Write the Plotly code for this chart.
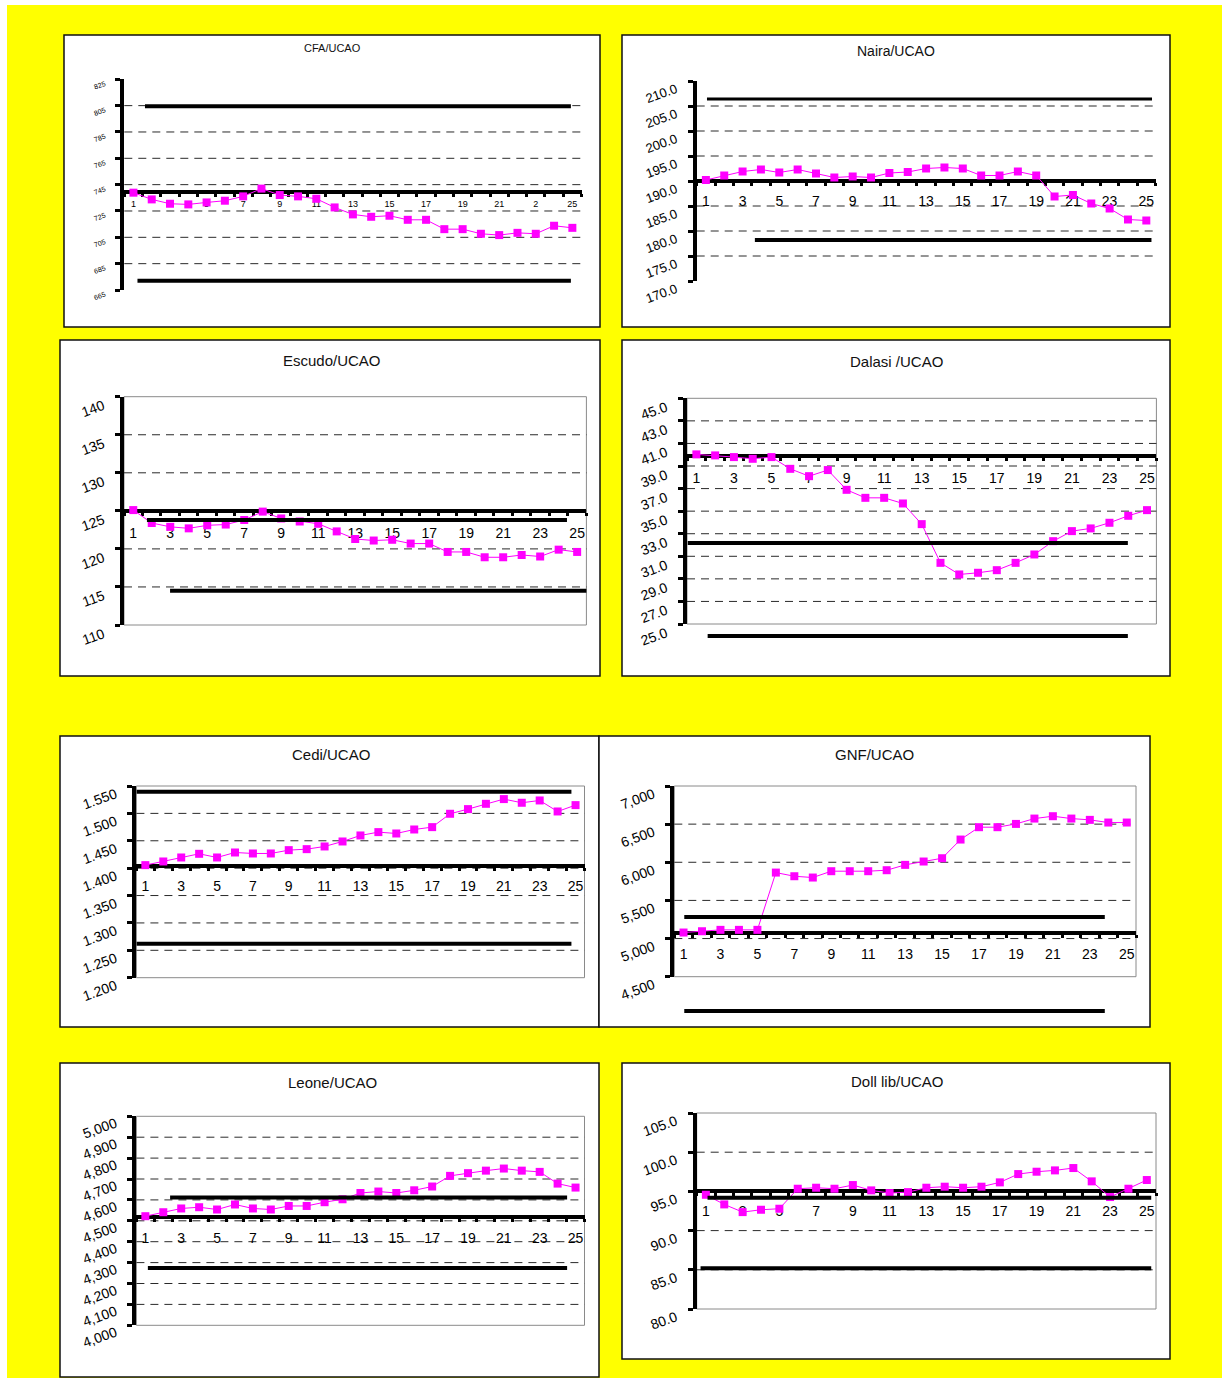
import numpy as np
import plotly.graph_objects as go

W, H = 1222, 1378

# ---------------- data ----------------
periods = list(range(1, 26))
xtick_vals = list(range(1, 26, 2))
xtick_text = [str(v) for v in xtick_vals]
xtick_text_cfa = ["1", "3", "5", "7", "9", "11", "13", "15", "17", "19", "21", "2", "25"]

titles = ["CFA/UCAO", "Naira/UCAO", "Escudo/UCAO", "Dalasi /UCAO",
          "Cedi/UCAO", "GNF/UCAO", "Leone/UCAO", "Doll lib/UCAO"]

cfa = [738.9, 733.8, 730.5, 730.0, 731.5, 732.8, 736.1, 742.0, 737.1, 736.1, 734.3, 727.7, 722.4,
       720.6, 721.4, 718.3, 718.3, 711.2, 711.2, 707.7, 706.7, 708.4, 707.7, 713.8, 712.2]
naira = [190.2, 191.1, 191.9, 192.3, 191.7, 192.3, 191.5, 190.7, 190.9, 190.7, 191.6, 191.8, 192.5,
         192.7, 192.5, 191.1, 191.1, 191.9, 191.1, 186.9, 187.2, 185.5, 184.5, 182.3, 182.1]
escudo = [125.1, 123.4, 122.9, 122.7, 123.1, 123.2, 123.8, 124.9, 124.0, 123.6, 123.3, 122.3, 121.3,
          121.1, 121.2, 120.7, 120.7, 119.6, 119.6, 118.9, 118.9, 119.2, 119.0, 119.9, 119.6]
dalasi = [40.03, 39.94, 39.79, 39.64, 39.79, 38.75, 38.10, 38.64, 36.89, 36.18, 36.18, 35.68, 33.85,
          30.42, 29.39, 29.54, 29.77, 30.42, 31.16, 32.34, 33.23, 33.47, 33.97, 34.59, 35.09]
cedi = [1.4055, 1.4122, 1.4195, 1.4262, 1.4195, 1.4286, 1.4268, 1.4268, 1.4329, 1.4347, 1.4396, 1.4487,
        1.4597, 1.4658, 1.4633, 1.4706, 1.4749, 1.4993, 1.5078, 1.5175, 1.5261, 1.5194, 1.5236, 1.5035, 1.5151]
gnf = [5079, 5096, 5114, 5114, 5114, 5865, 5817, 5800, 5883, 5883, 5883, 5896, 5966,
       6010, 6053, 6298, 6460, 6460, 6503, 6573, 6604, 6573, 6556, 6521, 6521]
leone = [4522, 4541, 4559, 4565, 4554, 4578, 4559, 4554, 4571, 4571, 4589, 4603, 4633,
         4640, 4633, 4646, 4664, 4715, 4728, 4740, 4750, 4740, 4734, 4678, 4659]
doll = [94.57, 93.34, 92.36, 92.66, 92.79, 95.34, 95.47, 95.34, 95.81, 95.13, 94.79, 94.91, 95.47,
        95.60, 95.47, 95.60, 96.15, 97.21, 97.51, 97.68, 97.98, 96.28, 94.28, 95.34, 96.45]

series = [cfa, naira, escudo, dalasi, cedi, gnf, leone, doll]

# axis scales (min, max, step) and crossing value of the category axis
y_ranges = [(665, 825, 20), (170, 210, 5), (110, 140, 5), (25, 45, 2),
            (1.2, 1.55, 0.05), (4500, 7000, 500), (4000, 5000, 100), (80, 105, 5)]
y_formats = ["d", ".1f", "d", ".1f", ".3f", ",d", ",d", ".1f"]
x_cross = [739.4, 190, 125, 39.9, 1.4037, 5070, 4519, 95]

# reference (band) levels: upper / lower
band_levels = [(804.5, 672.0), (206.4, 178.2), (123.8, 114.5), (32.17, 23.94),
               (1.5397, 1.2622), (5284, 4050), (4611, 4274), (94.19, 85.2)]

# ---------------- geometry (pixels) ----------------
geo = [
    dict(box=(64, 35, 600, 327), plot=(124.3, 79.3, 581.5, 290), title=(332, 48.3), tsize=11,
         xfont=9, yfont=7, frame=False, band_x=[(1.63, 24.92), (1.22, 24.92)], bw=[4, 4], xs=2, ys=4),
    dict(box=(622, 35, 1170, 327), plot=(696.7, 81, 1155.5, 281), title=(896, 50.7), tsize=14,
         xfont=14, yfont=13, frame=False, band_x=[(1.06, 25.31), (3.67, 25.28)], bw=[3, 4], xs=6, ys=7),
    dict(box=(60, 340, 600, 676), plot=(124, 396.7, 586.4, 625), title=(332, 360.7), tsize=15,
         xfont=14, yfont=14, frame=True, band_x=[(1.74, 24.45), (2.99, 25.69)], bw=[4, 4], xs=8, ys=8),
    dict(box=(622, 340, 1170, 676), plot=(687, 398.3, 1156.4, 624), title=(896.4, 361), tsize=15,
         xfont=14, yfont=14, frame=True, band_x=[(0.54, 23.98), (1.6, 23.98)], bw=[4, 4], xs=8, ys=8),
    dict(box=(60, 736, 599, 1027), plot=(136.4, 786, 584.5, 977.7), title=(331, 754.3), tsize=15,
         xfont=14, yfont=14, frame=True, band_x=[(0.5, 24.77), (0.5, 24.77)], bw=[4, 4], xs=6, ys=7),
    dict(box=(599, 736, 1150, 1027), plot=(674.3, 786, 1136, 976.7), title=(874.3, 754.3), tsize=15,
         xfont=14, yfont=14, frame=True, band_x=[(1.04, 23.81), (1.04, 23.81)], bw=[4, 4], xs=7, ys=7),
    dict(box=(60, 1063, 599, 1377), plot=(136.4, 1116.3, 584.5, 1325.3), title=(332, 1082.3), tsize=15,
         xfont=14, yfont=14, frame=True, band_x=[(2.38, 24.53), (1.14, 24.53)], bw=[4, 4], xs=7, ys=6),
    dict(box=(622, 1063, 1170, 1359), plot=(696.7, 1113, 1156, 1309), title=(897.4, 1081.3), tsize=15,
         xfont=14, yfont=14, frame=True, band_x=[(1.09, 25.24), (0.71, 25.24)], bw=[4, 4], xs=6, ys=7),
]

FONT = "Liberation Sans, Arial, sans-serif"
MAG = "#FF00FF"


def py_to_paper(py):
    return 1 - py / H


def val_to_paper(v, g, yr):
    top, bot = g["plot"][1], g["plot"][3]
    lo, hi = yr[0], yr[1]
    return py_to_paper(top + (hi - v) / (hi - lo) * (bot - top))


fig = go.Figure()
shapes = []
annotations = []

# white page strips (top and left); rest of page is yellow paper
shapes.append(dict(type="rect", xref="paper", yref="paper", x0=0, x1=1, y0=1 - 5 / H, y1=1,
                   fillcolor="white", line=dict(width=0), layer="below"))
shapes.append(dict(type="rect", xref="paper", yref="paper", x0=0, x1=7 / W, y0=0, y1=1,
                   fillcolor="white", line=dict(width=0), layer="below"))

for i, (g, vals) in enumerate(zip(geo, series)):
    n = i + 1
    xa = "x" if n == 1 else f"x{n}"
    ya = "y" if n == 1 else f"y{n}"
    xk = "xaxis" if n == 1 else f"xaxis{n}"
    yk = "yaxis" if n == 1 else f"yaxis{n}"
    lo, hi, step = y_ranges[i]
    px0, py0, px1, py1 = g["plot"]

    # panel box
    bx0, by0, bx1, by1 = g["box"]
    shapes.append(dict(type="rect", xref="paper", yref="paper",
                       x0=bx0 / W, x1=bx1 / W, y0=py_to_paper(by1), y1=py_to_paper(by0),
                       fillcolor="white", line=dict(color="#111111", width=1.5), layer="below"))

    fig.add_trace(go.Scatter(
        x=periods, y=vals, xaxis=xa, yaxis=ya, mode="lines+markers",
        line=dict(color=MAG, width=1),
        marker=dict(symbol="square", size=8, color=MAG),
        cliponaxis=False, hoverinfo="x+y", showlegend=False))

    fig.update_layout(**{
        xk: dict(domain=[px0 / W, px1 / W], range=[0.5, 25.5], anchor="free",
                 position=val_to_paper(x_cross[i], g, y_ranges[i]),
                 showline=True, linewidth=4, linecolor="black",
                 tickmode="array", tickvals=xtick_vals,
                 ticktext=xtick_text_cfa if n == 1 else xtick_text,
                 ticks="", ticklabelstandoff=g["xs"],
                 tickfont=dict(size=g["xfont"], color="black", family=FONT),
                 minor=dict(tickmode="linear", tick0=0.5, dtick=1, ticks="outside",
                            ticklen=3, tickwidth=3, tickcolor="black", showgrid=False),
                 showgrid=False, zeroline=False, layer="below traces", fixedrange=True,
                 automargin=False),
        yk: dict(domain=[py_to_paper(py1), py_to_paper(py0)], range=[lo, hi], anchor=xa,
                 tickmode="linear", tick0=lo, dtick=step, tickformat=y_formats[i],
                 showline=True, linewidth=4, linecolor="black",
                 ticks="outside", ticklen=5, tickwidth=3, tickcolor="black",
                 tickangle=-20, ticklabelshift=g["ys"], ticklabelstandoff=9,
                 tickfont=dict(size=g["yfont"], color="black", family=FONT),
                 showgrid=False, zeroline=False, fixedrange=True, automargin=False),
    })

    # plot-area frame
    if g["frame"]:
        shapes.append(dict(type="rect", xref=f"{xa} domain", yref=f"{ya} domain",
                           x0=0, x1=1, y0=0, y1=1, line=dict(color="#8a8a8a", width=1),
                           layer="below"))

    # dashed gridlines at interior ticks
    for v in np.arange(lo + step, hi - step / 2, step):
        shapes.append(dict(type="line", xref=f"{xa} domain", yref=ya, x0=0, x1=1,
                           y0=float(v), y1=float(v),
                           line=dict(color="#2a2a2a", width=1, dash="8px,6px"), layer="below"))

    # band lines
    for (lev, (bx_a, bx_b), bw) in zip(band_levels[i], g["band_x"], g["bw"]):
        yp = val_to_paper(lev, g, y_ranges[i])
        shapes.append(dict(type="line", xref=xa, yref="paper", x0=bx_a, x1=bx_b, y0=yp, y1=yp,
                           line=dict(color="black", width=bw), layer="above"))

    # title
    tx, ty = g["title"]
    annotations.append(dict(text=titles[i], xref="paper", yref="paper", x=tx / W, y=py_to_paper(ty),
                            showarrow=False, xanchor="center", yanchor="middle",
                            font=dict(size=g["tsize"], color="#111111", family=FONT)))

fig.update_layout(width=W, height=H, margin=dict(l=0, r=0, t=0, b=0, autoexpand=False),
                  paper_bgcolor="#FFFF00", plot_bgcolor="white", showlegend=False,
                  shapes=shapes, annotations=annotations, font=dict(family=FONT))

fig.write_html("out.html")
